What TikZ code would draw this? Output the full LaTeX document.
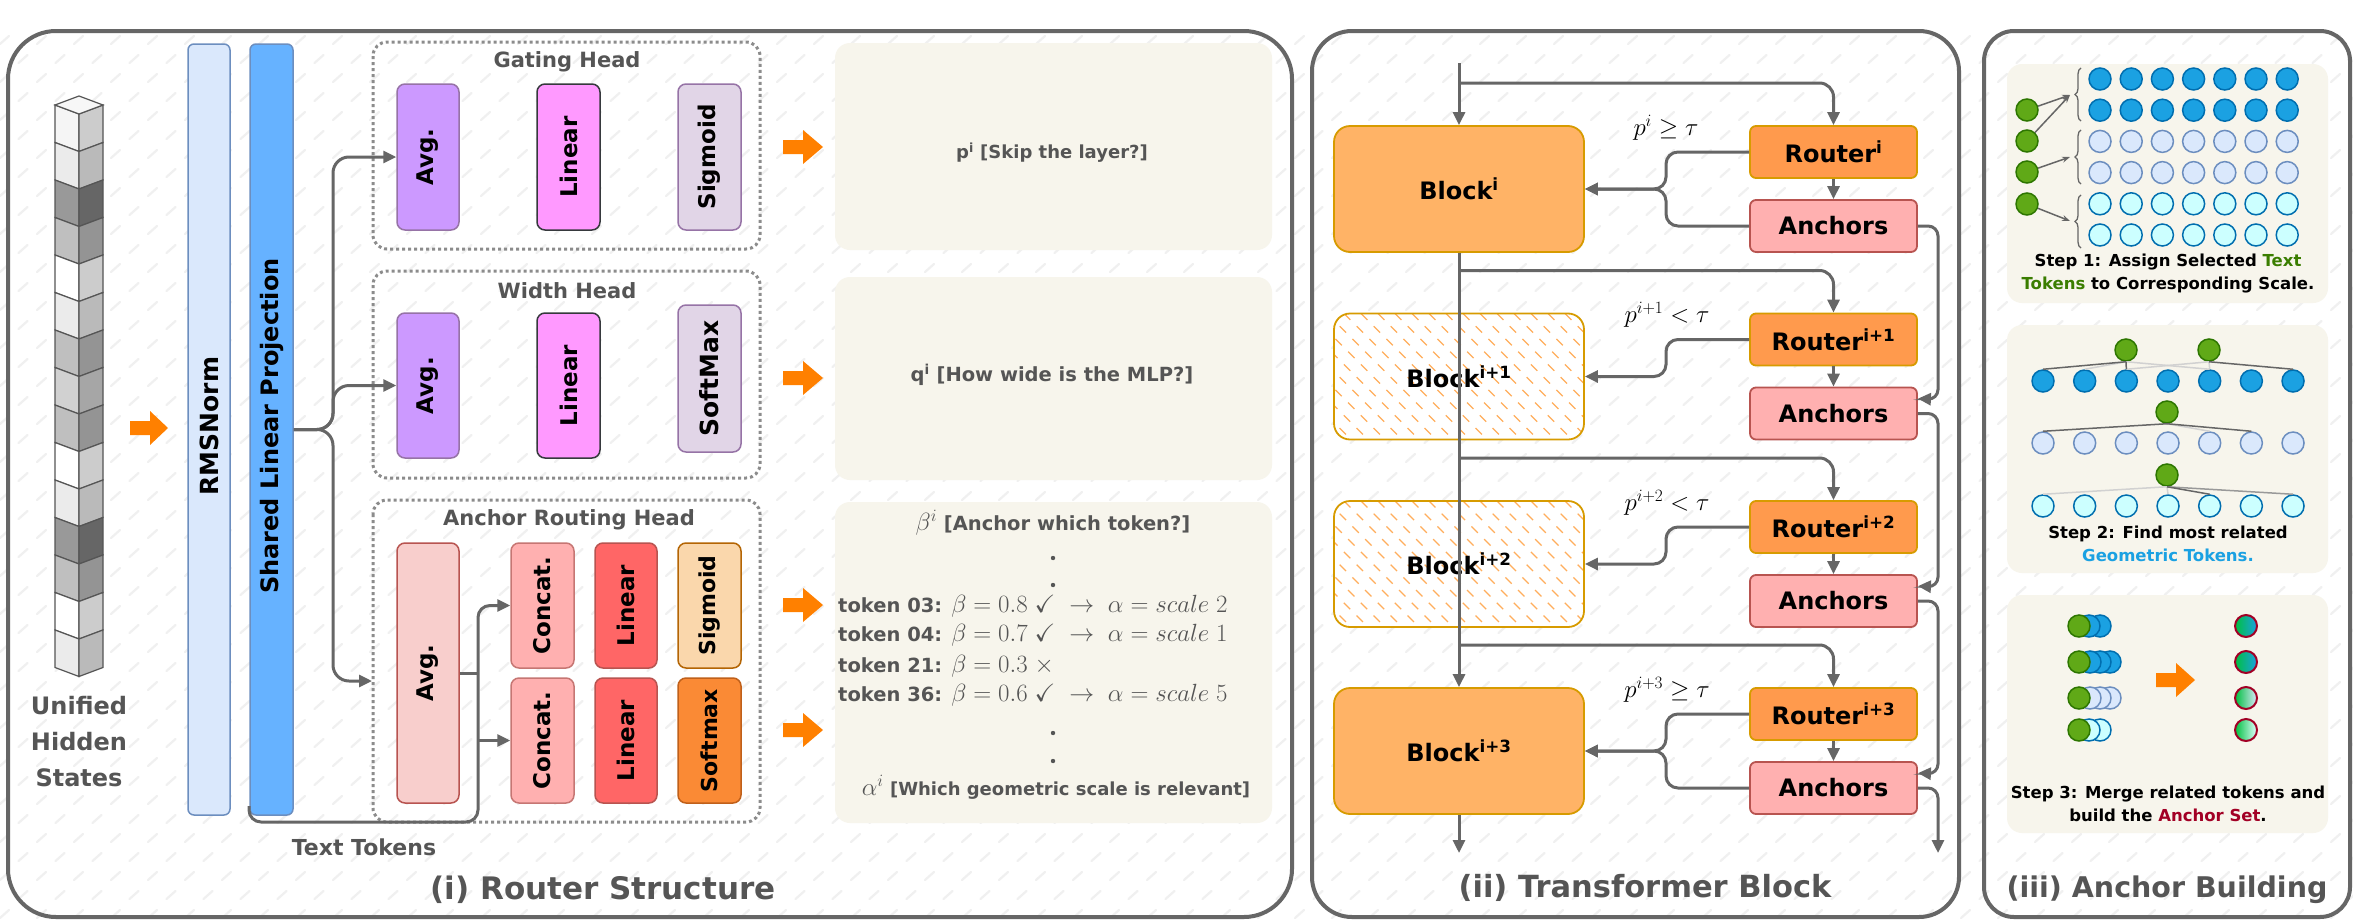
\documentclass[tikz,border=0pt]{standalone}
\usepackage{amssymb}
\usepackage[no-math]{fontspec}
\setmainfont{DejaVu Sans}
\usetikzlibrary{arrows.meta,calc,decorations.pathreplacing}
\definecolor{lg}{HTML}{666666}
\definecolor{tg}{HTML}{555555}
\definecolor{beige}{HTML}{F7F5EC}
\definecolor{purpF}{HTML}{CC99FF}\definecolor{purpD}{HTML}{9673A6}
\definecolor{pinkF}{HTML}{FF99FF}\definecolor{darkD}{HTML}{36393D}
\definecolor{lilacF}{HTML}{E1D5E7}
\definecolor{rosaF}{HTML}{F8CECC}\definecolor{redD}{HTML}{B85450}
\definecolor{salF}{HTML}{FFB0B0}
\definecolor{redF}{HTML}{FF6666}
\definecolor{peachF}{HTML}{FAD7AC}\definecolor{brownD}{HTML}{B46504}
\definecolor{orF}{HTML}{FA8A35}\definecolor{orD}{HTML}{C0601A}
\definecolor{blkF}{HTML}{FFB366}\definecolor{blkD}{HTML}{D79B00}
\definecolor{rtF}{HTML}{FF9A4D}
\definecolor{blueF}{HTML}{DAE8FC}\definecolor{blueD}{HTML}{6C8EBF}
\definecolor{slpF}{HTML}{66B2FF}
\definecolor{orA}{HTML}{FF8000}
\definecolor{dbF}{HTML}{1BA1E2}\definecolor{dbD}{HTML}{006EAF}
\definecolor{cyF}{HTML}{CCFFFF}
\definecolor{grF}{HTML}{60A917}\definecolor{grD}{HTML}{2D7600}
\definecolor{grT}{HTML}{3A7D00}
\definecolor{ancC}{HTML}{A20025}
\definecolor{mixG}{HTML}{00C040}
\newcommand{\orarrow}[4]{\fill[orA] (#1,#4-7) -- (#2,#4-7) -- (#2,#4-17) -- (#3,#4) -- (#2,#4+17) -- (#2,#4+7) -- (#1,#4+7) -- cycle;}
\newcommand{\fs}[1]{\fontsize{#1}{#1}\selectfont}
\tikzset{
  conn/.style={draw=lg, line width=3pt, -{Triangle[length=13pt,width=12pt]}},
  plainline/.style={draw=lg, line width=3pt},
  panel/.style={draw=lg, line width=4pt},
  bghatch/.style={draw=black!6, line width=2.2pt, line cap=round},
  dotbox/.style={draw=black!45, line width=3pt, dash pattern=on 3pt off 3pt, rounded corners=14pt},
  vbox/.style={draw, line width=1.5pt, rounded corners=8pt, inner sep=0pt, font=\fs{23}\bfseries},
  headt/.style={font=\fs{21}\bfseries, text=tg},
  ptitle/.style={font=\fs{31}\bfseries, text=tg},
  tbox/.style={fill=beige, rounded corners=15pt},
  btxt/.style={font=\fs{19.5}\bfseries, text=tg},
  blockn/.style={draw=blkD, line width=1.8pt, rounded corners=16pt, minimum width=250pt, minimum height=126pt, inner sep=0pt, font=\fs{24}\bfseries},
  routern/.style={draw=blkD, fill=rtF, line width=1.8pt, rounded corners=6pt, minimum width=167pt, minimum height=52pt, inner sep=0pt, font=\fs{24}\bfseries},
  anchn/.style={draw=redD, fill=salF, line width=1.8pt, rounded corners=6pt, minimum width=167pt, minimum height=52pt, inner sep=0pt, font=\fs{24}\bfseries},
  mlab/.style={font=\fs{25}},
  dot/.style={circle, minimum size=22pt, inner sep=0pt, line width=1.5pt},
  thinarr/.style={draw=lg, line width=1.5pt, -{Stealth[length=8pt,width=6pt]}},
  dline/.style={draw=lg, line width=1.5pt},
  lline/.style={draw=black!18, line width=1.5pt},
  stxt/.style={font=\fontsize{16.5}{23}\selectfont\bfseries, align=center},
}
\begin{document}
\begin{tikzpicture}[x=1pt,y=-1pt]
\useasboundingbox (0,0) rectangle (2353,921);
\fill[white] (0,0) rectangle (2353,921);
% background hatch
\foreach \j in {0,...,46}{\foreach \i in {0,...,64}{%
  \pgfmathsetmacro\xx{\i*37+mod(\j,2)*18.5}\pgfmathsetmacro\yy{44+\j*19}%
  \draw[bghatch] (\xx,\yy) -- ++(9,-8);}}
% panels
\draw[panel, rounded corners=48pt] (8,31) rectangle (1292,917);
\draw[panel, rounded corners=40pt] (1312,31) rectangle (1959,917);
\draw[panel, rounded corners=30pt] (1984,31) rectangle (2350,917);

% ================= Panel (i) =================
\foreach \k/\l/\r in {0/4/20,1/8/27,2/40/60,3/25/42,4/0/20,5/8/27,6/25/42,7/18/35,8/25/42,9/0/20,10/8/27,11/40/60,12/25/42,13/0/20,14/8/27}{%
  \pgfmathsetmacro\t{105+37.5*\k}%
  \filldraw[fill=black!\l, draw=tg, line width=1.2pt] (55,\t) -- (79,\t+9) -- (79,\t+46.5) -- (55,\t+37.5) -- cycle;
  \filldraw[fill=black!\r, draw=tg, line width=1.2pt] (79,\t+9) -- (103,\t) -- (103,\t+37.5) -- (79,\t+46.5) -- cycle;}
\filldraw[fill=black!3, draw=tg, line width=1.2pt] (55,105) -- (79,96) -- (103,105) -- (79,114) -- cycle;
\node[font=\fontsize{24}{36}\selectfont\bfseries, text=tg, align=center] (uhs) at (79,742) {Unified\\Hidden\\States};
\orarrow{130}{150}{168}{428}

\node[draw=blueD, fill=blueF, line width=1.5pt, rounded corners=6pt, minimum width=42pt, minimum height=771pt, inner sep=0pt] (rms) at (209,429.5) {};
\node[font=\fs{25}\bfseries] (rmst) at (209,426) {\rotatebox{90}{RMSNorm}};
\node[draw=blueD, fill=slpF, line width=1.5pt, rounded corners=6pt, minimum width=43pt, minimum height=771pt, inner sep=0pt] (slp) at (271.5,429.5) {};
\node[font=\fs{24}\bfseries] (slpt) at (271.5,426) {\rotatebox{90}{Shared Linear Projection}};

\draw[dotbox] (373,42) rectangle (760,249);
\draw[dotbox] (373,271) rectangle (760,478);
\draw[dotbox] (373,500) rectangle (760,822);
\node[headt] (tG) at (567,62) {Gating Head};
\node[headt] (tW) at (567,291) {Width Head};
\node[headt] (tA) at (569,520) {Anchor Routing Head};

\node[vbox, fill=purpF, draw=purpD, minimum width=62pt, minimum height=146pt] (avgG) at (428,157) {\rotatebox{90}{Avg.}};
\node[vbox, fill=pinkF, draw=darkD, minimum width=63pt, minimum height=146pt] (linG) at (568.5,157) {\rotatebox{90}{Linear}};
\node[vbox, fill=lilacF, draw=purpD, minimum width=63pt, minimum height=146pt] (sigG) at (709.5,157) {\rotatebox{90}{Sigmoid}};

\node[vbox, fill=purpF, draw=purpD, minimum width=62pt, minimum height=145pt] (avgW) at (428,385.5) {\rotatebox{90}{Avg.}};
\node[vbox, fill=pinkF, draw=darkD, minimum width=63pt, minimum height=145pt] (linW) at (568.5,385.5) {\rotatebox{90}{Linear}};
\node[vbox, fill=lilacF, draw=purpD, minimum width=63pt, minimum height=147pt, font=\fs{25}\bfseries] (smW) at (709.5,378.5) {\rotatebox{90}{SoftMax}};

\node[vbox, fill=rosaF, draw=redD, minimum width=62pt, minimum height=260pt] (avgA) at (428,673) {\rotatebox{90}{Avg.}};
\node[vbox, fill=salF, draw=redD!80, minimum width=63pt, minimum height=125pt] (cat1) at (542.5,605.5) {\rotatebox{90}{Concat.}};
\node[vbox, fill=salF, draw=redD!80, minimum width=63pt, minimum height=125pt] (cat2) at (542.5,740.5) {\rotatebox{90}{Concat.}};
\node[vbox, fill=redF, draw=redD, minimum width=62pt, minimum height=125pt] (lin1) at (626,605.5) {\rotatebox{90}{Linear}};
\node[vbox, fill=redF, draw=redD, minimum width=62pt, minimum height=125pt] (lin2) at (626,740.5) {\rotatebox{90}{Linear}};
\node[vbox, fill=peachF, draw=brownD, minimum width=63pt, minimum height=125pt, font=\fs{22}\bfseries] (sigA) at (709.5,605.5) {\rotatebox{90}{Sigmoid}};
\node[vbox, fill=orF, draw=orD, minimum width=63pt, minimum height=125pt, font=\fs{22}\bfseries] (smA) at (709.5,740.5) {\rotatebox{90}{Softmax}};

\coordinate (ancin) at (372,681);
\draw[conn, rounded corners=16pt] (slp.east) -| (333,157) -- (avgG.west);
\draw[conn, rounded corners=16pt] (slp.east) -| (333,385.5) -- (avgW.west);
\draw[conn, rounded corners=16pt] (slp.east) -| (333,681) -- (ancin);
\coordinate (tt0) at (249,806);
\draw[conn, rounded corners=12pt] (tt0) |- (478,822) -- (478,605.5) -- (cat1.west);
\draw[conn] (478,740.5) -- (cat2.west);
\draw[plainline] (avgA.east |- 0,673) -- (478,673);
\node[font=\fs{22}\bfseries, text=tg] (ttl) at (364,847) {Text Tokens};

\orarrow{783}{803}{823}{147}
\orarrow{783}{803}{823}{378}
\orarrow{783}{803}{823}{605}
\orarrow{783}{803}{823}{730}

\fill[tbox] (835,43) rectangle (1272,250);
\fill[tbox] (835,277) rectangle (1272,480);
\fill[tbox] (835,502) rectangle (1272,823);
\node[btxt, font=\fs{18}\bfseries] (pt) at (1052,153) {p\textsuperscript{i} [Skip the layer?]};
\node[btxt] (qt) at (1052,375) {q\textsuperscript{i} [How wide is the MLP?]};
\node[btxt] (bt) at (1053,523) {{\fs{25}\mdseries$\beta^{i}$} [Anchor which token?]};
\fill[tg] (1053,558) circle (2.2);
\fill[tg] (1053,585) circle (2.2);
\begin{scope}[every node/.style={anchor=west, text=tg, font=\fs{19.5}\bfseries, inner sep=0pt}]
\node (tk1) at (838,606) {token 03: {\fs{25}$\beta = 0.8 \;\checkmark \;\to\; \alpha = scale\;2$}};
\node (tk2) at (838,635) {token 04: {\fs{25}$\beta = 0.7 \;\checkmark \;\to\; \alpha = scale\;1$}};
\node (tk3) at (838,666) {token 21: {\fs{25}$\beta = 0.3 \;\times$}};
\node (tk4) at (838,695) {token 36: {\fs{25}$\beta = 0.6 \;\checkmark \;\to\; \alpha = scale\;5$}};
\end{scope}
\fill[tg] (1053,733) circle (2.2);
\fill[tg] (1053,761) circle (2.2);
\node[btxt, font=\fs{18}\bfseries] (at) at (1056,787) {{\fs{25}\mdseries$\alpha^{i}$} [Which geometric scale is relevant]};
\node[ptitle] (t1) at (603,890) {(i) Router Structure};

% ================= Panel (ii) =================
\node[blockn, fill=blkF] (blk0) at (1459,189) {Block\textsuperscript{i}};
\begin{scope}
\clip[rounded corners=16pt] (1334,313.5) rectangle (1584,439.5);
\fill[white] (1334,313.5) rectangle (1584,439.5);
\foreach \k in {0,...,23}{\draw[blkF!90!orange, line width=1.3pt, dash pattern=on 9pt off 9pt] (1334+\k*17-126,313.5) -- ++(126,126);}
\end{scope}
\node[blockn] (blk1) at (1459,376.5) {Block\textsuperscript{i+1}};
\begin{scope}
\clip[rounded corners=16pt] (1334,501) rectangle (1584,627);
\fill[white] (1334,501) rectangle (1584,627);
\foreach \k in {0,...,23}{\draw[blkF!90!orange, line width=1.3pt, dash pattern=on 9pt off 9pt] (1334+\k*17-126,501) -- ++(126,126);}
\end{scope}
\node[blockn] (blk2) at (1459,564) {Block\textsuperscript{i+2}};
\node[blockn, fill=blkF] (blk3) at (1459,751) {Block\textsuperscript{i+3}};

\node[routern] (rt0) at (1833.5,152) {Router\textsuperscript{i}};
\node[anchn] (an0) at (1833.5,226) {Anchors};
\node[routern] (rt1) at (1833.5,339.5) {Router\textsuperscript{i+1}};
\node[anchn] (an1) at (1833.5,413.5) {Anchors};
\node[routern] (rt2) at (1833.5,527) {Router\textsuperscript{i+2}};
\node[anchn] (an2) at (1833.5,601) {Anchors};
\node[routern] (rt3) at (1833.5,714) {Router\textsuperscript{i+3}};
\node[anchn] (an3) at (1833.5,788) {Anchors};

\coordinate (inTop) at (1459,63);
\coordinate (outL) at (1459,853);
\coordinate (outR) at (1938,853);
\draw[conn] (inTop) -- (blk0.north);
\draw[conn] (blk0.south) -- (blk3.north);
\draw[conn] (blk3.south) -- (outL);
\coordinate (br0) at (1459,83);
\coordinate (br1) at (1459,270.5);
\coordinate (br2) at (1459,458);
\coordinate (br3) at (1459,645);
\draw[conn, rounded corners=14pt] (br0) -| (rt0.north);
\draw[conn, rounded corners=14pt] (br1) -| (rt1.north);
\draw[conn, rounded corners=14pt] (br2) -| (rt2.north);
\draw[conn, rounded corners=14pt] (br3) -| (rt3.north);
\draw[conn] (rt0.south) -- (an0.north);
\draw[conn] (rt1.south) -- (an1.north);
\draw[conn] (rt2.south) -- (an2.north);
\draw[conn] (rt3.south) -- (an3.north);
\draw[conn, rounded corners=12pt] (rt0.west) -| (1666,189) -- (blk0.east);
\draw[conn, rounded corners=12pt] (an0.west) -| (1666,189) -- (blk0.east);
\draw[conn, rounded corners=12pt] (rt1.west) -| (1666,376.5) -- (blk1.east);
\draw[conn, rounded corners=12pt] (rt2.west) -| (1666,564) -- (blk2.east);
\draw[conn, rounded corners=12pt] (rt3.west) -| (1666,751) -- (blk3.east);
\draw[conn, rounded corners=12pt] (an3.west) -| (1666,751) -- (blk3.east);
\draw[conn, rounded corners=10pt] (an0.east) -| (1938,399.5) -- ($(an1.north east)+(0,12)$);
\draw[conn, rounded corners=10pt] (an1.east) -| (1938,587) -- ($(an2.north east)+(0,12)$);
\draw[conn, rounded corners=10pt] (an2.east) -| (1938,774) -- ($(an3.north east)+(0,12)$);
\draw[conn, rounded corners=10pt] (an3.east) -| (outR);
\node[mlab] (l0) at (1666,128) {$p^{i}\geq\tau$};
\node[mlab] (l1) at (1667,315) {$p^{i+1}<\tau$};
\node[mlab] (l2) at (1667,503) {$p^{i+2}<\tau$};
\node[mlab] (l3) at (1667,690) {$p^{i+3}\geq\tau$};
\node[ptitle, font=\fs{30.5}\bfseries] (t2) at (1645,888) {(ii) Transformer Block};

% ================= Panel (iii) =================
\fill[tbox] (2007,64) rectangle (2328,303);
\fill[tbox] (2007,325) rectangle (2328,573);
\fill[tbox] (2007,595) rectangle (2328,833);
\foreach \r in {0,1,2,3,4,5}{\foreach \c in {0,...,6}{%
  \ifnum\r<2 \def\ff{dbF}\def\dd{dbD}\else\ifnum\r<4 \def\ff{blueF}\def\dd{blueD}\else\def\ff{cyF}\def\dd{dbD}\fi\fi
  \node[dot, fill=\ff, draw=\dd] (s\r c\c) at (2100+31.2*\c,79+31.2*\r) {};}}
\node[dot, fill=grF, draw=grD] (g1) at (2027,110) {};
\node[dot, fill=grF, draw=grD] (g2) at (2027,141) {};
\node[dot, fill=grF, draw=grD] (g3) at (2027,172) {};
\node[dot, fill=grF, draw=grD] (g4) at (2027,204) {};
\draw[draw=lg, line width=1.3pt, decorate, decoration={brace, amplitude=6pt}] (2081,121) -- (2081,68);
\draw[draw=lg, line width=1.3pt, decorate, decoration={brace, amplitude=6pt}] (2081,184) -- (2081,130);
\draw[draw=lg, line width=1.3pt, decorate, decoration={brace, amplitude=6pt}] (2081,248) -- (2081,195);
\coordinate (tp1) at (2070,95);
\coordinate (tp2) at (2070,157);
\coordinate (tp3) at (2070,221);
\draw[thinarr] (g1) -- (tp1);
\draw[thinarr] (g2) -- (tp1);
\draw[thinarr] (g3) -- (tp2);
\draw[thinarr] (g4) -- (tp3);
\node[stxt] (st1) at (2168,273.5) {Step 1: Assign Selected \textcolor{grT}{Text}\\\textcolor{grT}{Tokens} to Corresponding Scale.};
\foreach \c in {0,...,6}{%
  \node[dot, fill=dbF, draw=dbD] (b\c) at (2043+41.67*\c,381) {};
  \node[dot, fill=blueF, draw=blueD] (c\c) at (2043+41.67*\c,443) {};
  \node[dot, fill=cyF, draw=dbD] (d\c) at (2043+41.67*\c,506) {};}
\node[dot, fill=grF, draw=grD] (ga1) at (2126,350) {};
\node[dot, fill=grF, draw=grD] (ga2) at (2209,350) {};
\node[dot, fill=grF, draw=grD] (gb) at (2167,412) {};
\node[dot, fill=grF, draw=grD] (gc) at (2167,475) {};
\draw[lline] (ga1.south) -- (b1.north);
\draw[lline] (ga1.south) -- (b4.north);
\draw[lline] (ga2.south) -- (b2.north);
\draw[lline] (ga2.south) -- (b4.north);
\draw[dline] (ga1.south) -- (b0.north);
\draw[dline] (ga1.south) -- (b2.north);
\draw[dline] (ga2.south) -- (b6.north);
\draw[lline] (gb.south) -- (c4.north);
\draw[dline] (gb.south) -- (c0.north);
\draw[dline] (gb.south) -- (c5.north);
\draw[lline] (gc.south) -- (d0.north);
\draw[lline] (gc.south) -- (d3.north);
\draw[draw=black!40, line width=1.5pt] (gc.south) -- (d6.north);
\draw[dline] (gc.south) -- (d4.north);
\node[stxt] (st2) at (2168,544) {Step 2: Find most related\\\textcolor{dbF}{Geometric Tokens.}};
\node[dot, fill=dbF, draw=dbD] (m1c) at (2100,626) {};
\node[dot, fill=dbF, draw=dbD] (m1b) at (2089,626) {};
\node[dot, fill=grF, draw=grD] (m1a) at (2079,626) {};
\node[dot, fill=dbF, draw=dbD] (m2d) at (2110,662) {};
\node[dot, fill=dbF, draw=dbD] (m2c) at (2100,662) {};
\node[dot, fill=dbF, draw=dbD] (m2b) at (2090,662) {};
\node[dot, fill=grF, draw=grD] (m2a) at (2079,662) {};
\node[dot, fill=blueF, draw=blueD] (m3d) at (2110,698) {};
\node[dot, fill=blueF, draw=blueD] (m3c) at (2100,698) {};
\node[dot, fill=blueF, draw=blueD] (m3b) at (2090,698) {};
\node[dot, fill=grF, draw=grD] (m3a) at (2079,698) {};
\node[dot, fill=cyF, draw=dbD] (m4c) at (2100,730) {};
\node[dot, fill=cyF, draw=dbD] (m4b) at (2089,730) {};
\node[dot, fill=grF, draw=grD] (m4a) at (2079,730) {};
\orarrow{2156}{2176}{2195}{680}
\node[dot, left color=mixG, right color=dbF, draw=ancC, line width=2pt] (r1) at (2246,626) {};
\node[dot, left color=mixG, right color=dbF, draw=ancC, line width=2pt] (r2) at (2246,662) {};
\node[dot, left color=mixG, right color=blueF, draw=ancC, line width=2pt] (r3) at (2246,698) {};
\node[dot, left color=mixG, right color=cyF!60!white, draw=ancC, line width=2pt] (r4) at (2246,730) {};
\node[stxt] (st3) at (2168,804) {Step 3: Merge related tokens and\\build the \textcolor{ancC}{Anchor Set}.};
\node[ptitle, font=\fs{28.5}\bfseries] (t3) at (2167,890) {(iii) Anchor Building};
\end{tikzpicture}
\end{document}
